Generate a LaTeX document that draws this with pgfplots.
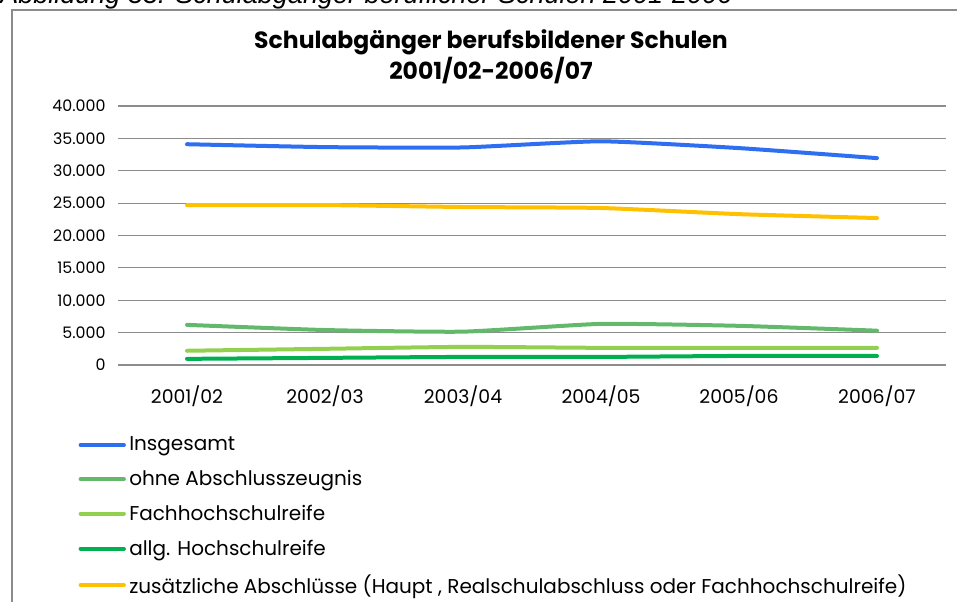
\documentclass[border=0pt]{standalone}
\usepackage{fontspec}
\setmainfont{Poppins}
\newfontfamily\capfont{Liberation Sans}
\usepackage{pgfplots}
\pgfplotsset{compat=1.18}
\definecolor{cblue}{HTML}{2E6FF2}
\definecolor{cohne}{HTML}{62B96C}
\definecolor{cfach}{HTML}{92D050}
\definecolor{callg}{HTML}{00B050}
\definecolor{czus}{HTML}{FFC000}
\definecolor{cgrid}{HTML}{8C8C8C}
\begin{document}
\begin{tikzpicture}
\begin{scope}[x=0.6pt,y=-0.6pt,yshift=360.6pt]
\useasboundingbox (0,0) rectangle (957,601);
\begin{scope}
\clip (0,0) rectangle (957,601);
\node[anchor=base west,inner sep=0pt,font=\capfont\itshape\fontsize{16.2}{19}\selectfont] at (0,4) {Abbildung 33: Schulabgänger beruflicher Schulen 2001-2006};
\draw[cgrid,line width=1.3pt] (12,620) -- (12,10) -- (970,10);
\end{scope}
\node[align=center,font=\bfseries\fontsize{14.1}{16.8}\selectfont,inner sep=0pt] at (491,57) {Schulabgänger berufsbildener Schulen\\2001/02-2006/07};
\end{scope}
\begin{axis}[
  at={(70.8pt,141.6pt)}, anchor=south west,
  scale only axis, width=496.8pt, height=155.4pt,
  xmin=-0.5, xmax=5.5, ymin=0, ymax=40000,
  xtick={0,1,2,3,4,5},
  xticklabels={2001/02,2002/03,2003/04,2004/05,2005/06,2006/07},
  ytick={0,5000,10000,15000,20000,25000,30000,35000,40000},
  scaled y ticks=false,
  /pgf/number format/.cd, 1000 sep={.}, assume math mode=true, /pgfplots/.cd,
  ymajorgrids, grid style={cgrid, line width=0.7pt},
  axis line style={draw=none},
  major tick length=0pt,
  yticklabel style={font=\fontsize{9.5}{11}\selectfont, xshift=-4pt},
  xticklabel style={font=\fontsize{11.3}{13}\selectfont, yshift=-9pt},
  legend style={at={(-0.048,-0.263)}, anchor=north west, draw=none, fill=none,
    font=\fontsize{12}{14}\selectfont, row sep=6.2pt, inner sep=0pt,
    cells={anchor=west}},
  legend image code/.code={\draw[#1,line width=2.4pt] (0pt,0pt) -- (26pt,0pt);},
  legend cell align=left,
  every axis plot/.append style={line width=2.4pt, smooth, tension=0.3, line cap=round},
]
\addplot[cblue] coordinates {(0,34100) (1,33650) (2,33600) (3,34550) (4,33500) (5,31950)};
\addlegendentry{Insgesamt}
\addplot[cohne] coordinates {(0,6200) (1,5400) (2,5150) (3,6350) (4,6050) (5,5300)};
\addlegendentry{ohne Abschlusszeugnis}
\addplot[cfach] coordinates {(0,2200) (1,2500) (2,2800) (3,2650) (4,2650) (5,2650)};
\addlegendentry{Fachhochschulreife}
\addplot[callg] coordinates {(0,950) (1,1100) (2,1250) (3,1250) (4,1400) (5,1400)};
\addlegendentry{allg. Hochschulreife}
\addplot[czus] coordinates {(0,24700) (1,24700) (2,24400) (3,24250) (4,23300) (5,22700)};
\addlegendentry{zusätzliche Abschlüsse (Haupt , Realschulabschluss oder Fachhochschulreife)}
\end{axis}
\end{tikzpicture}
\end{document}
